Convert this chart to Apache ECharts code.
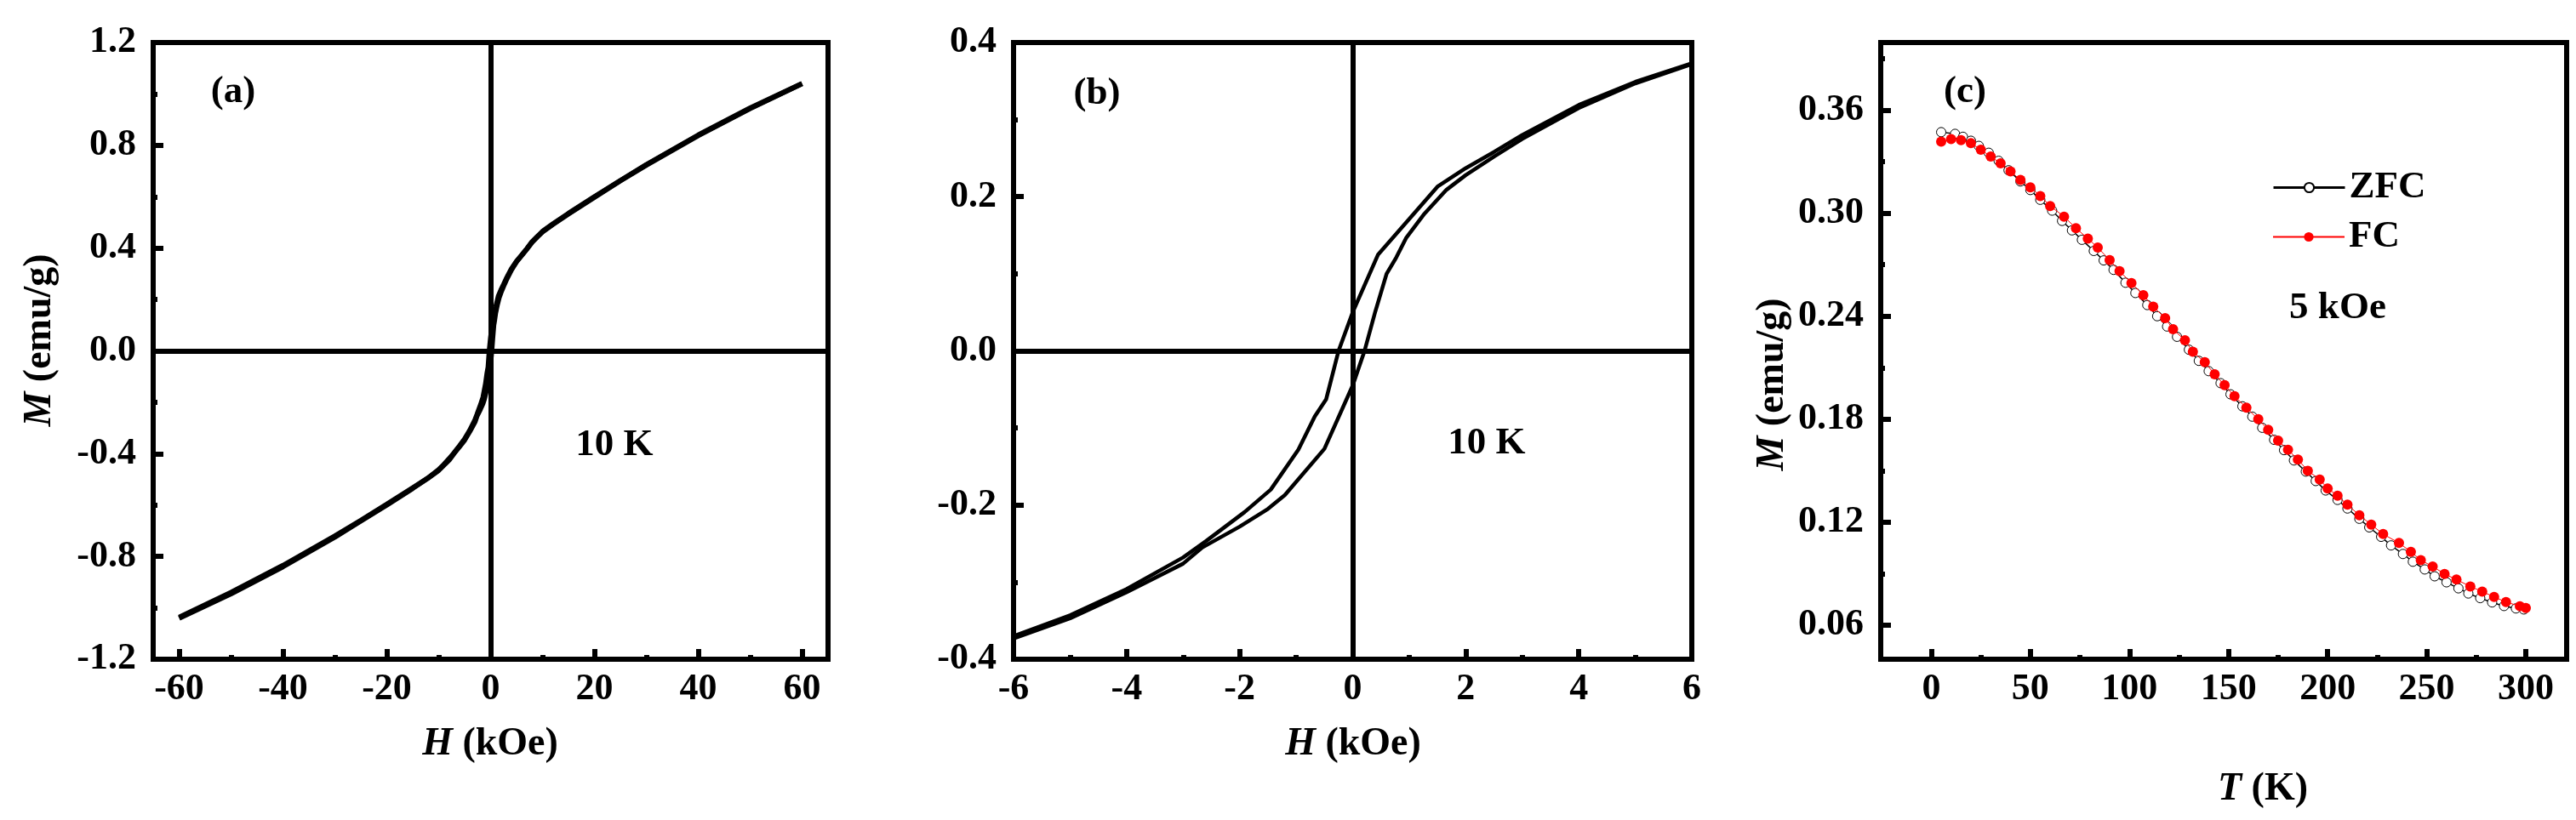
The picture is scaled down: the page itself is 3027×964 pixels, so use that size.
<!DOCTYPE html>
<html><head><meta charset="utf-8">
<script src="https://cdn.jsdelivr.net/npm/echarts@6/dist/echarts.min.js"></script>
<style>html,body{margin:0;padding:0;background:#fff}#c{width:3027px;height:964px}</style>
</head><body><div id="c"></div>
<script>
// ---- Data: M-H loop at 10 K (descending / ascending branches) ----
const hDesc = [60, 50, 40, 30, 25, 20, 15, 12, 10, 9, 8, 7, 6, 5, 4, 3, 2.5, 2, 1.5, 1, 0.45, 0, -0.25, -0.47, -0.67, -0.96, -1.45, -1.91, -2.6, -3, -4, -5, -6, -7, -8, -9, -10, -12, -15, -20, -25, -30, -40, -50, -60];
const mDesc = [1.04, 0.945, 0.84, 0.725, 0.663, 0.6, 0.535, 0.494, 0.465, 0.445, 0.425, 0.398, 0.373, 0.349, 0.319, 0.28, 0.258, 0.237, 0.213, 0.171, 0.125, 0.05, 0, -0.063, -0.085, -0.128, -0.18, -0.209, -0.247, -0.268, -0.309, -0.343, -0.37, -0.396, -0.42, -0.442, -0.462, -0.494, -0.533, -0.597, -0.66, -0.72, -0.835, -0.94, -1.037];
const hAsc = [-60, -50, -40, -30, -25, -20, -15, -12, -10, -9, -8, -7, -6, -5, -4, -3, -2.66, -2, -1.5, -1.2, -0.5, 0, 0.21, 0.4, 0.6, 0.77, 0.95, 1.27, 1.66, 2, 2.5, 3, 4, 5, 6, 7, 8, 9, 10, 12, 15, 20, 25, 30, 40, 50, 60];
const mAsc = [-1.04, -0.945, -0.84, -0.725, -0.662, -0.6, -0.535, -0.494, -0.465, -0.445, -0.425, -0.398, -0.373, -0.347, -0.313, -0.276, -0.255, -0.228, -0.205, -0.187, -0.127, -0.045, 0, 0.051, 0.1, 0.121, 0.147, 0.178, 0.209, 0.228, 0.252, 0.275, 0.315, 0.347, 0.372, 0.397, 0.423, 0.444, 0.463, 0.492, 0.533, 0.598, 0.662, 0.723, 0.838, 0.943, 1.04];

// ---- Data: M-T at 5 kOe ----
const tZFC = [5,12,16,20,24,29,34,39,45,50,55,61,66,71,76,82,87,92,98,103,109,114,119,124,130,135,140,146,151,157,162,167,173,178,183,189,194,199,205,210,216,221,227,232,238,243,249,254,260,266,271,277,283,289,295,299];
const mZFC = [0.3472,0.3462,0.3445,0.3422,0.3392,0.3352,0.3305,0.325,0.3185,0.3135,0.3078,0.3015,0.2955,0.29,0.2845,0.278,0.2725,0.267,0.2595,0.2535,0.2465,0.24,0.234,0.228,0.2205,0.214,0.208,0.201,0.1945,0.1875,0.1815,0.175,0.168,0.162,0.156,0.1495,0.144,0.1385,0.133,0.128,0.122,0.117,0.1115,0.1065,0.1015,0.097,0.0925,0.0885,0.085,0.0815,0.0785,0.0758,0.0733,0.0712,0.0698,0.0692];
const tFC = [5,10,15,20,25,30,35,40,45,50,55,60,67,73,79,84,90,95,101,107,112,118,122,128,132,138,143,148,153,159,165,170,175,180,185,190,196,200,205,210,216,222,228,236,242,247,253,259,265,272,278,284,290,297,300];
const mFC = [0.3417,0.3432,0.3426,0.3408,0.337,0.333,0.329,0.3243,0.3194,0.3151,0.31,0.3042,0.298,0.2913,0.2852,0.28,0.2727,0.2663,0.2593,0.2523,0.2456,0.2389,0.2324,0.226,0.2193,0.2132,0.2062,0.1998,0.1934,0.1867,0.18,0.1739,0.1675,0.1622,0.1565,0.15,0.1449,0.1397,0.1354,0.1302,0.1241,0.1186,0.1131,0.1079,0.1028,0.0979,0.0942,0.0899,0.0866,0.0826,0.0796,0.0765,0.0735,0.0711,0.0701];

// ---- Tick values ----
const aXMajor = [-60, -40, -20, 0, 20, 40, 60];
const aXMinor = [-50, -30, -10, 10, 30, 50];
const aYMajor = [-1.2, -0.8, -0.4, 0, 0.4, 0.8, 1.2];
const aYMinor = [-1.0, -0.6, -0.2, 0.2, 0.6, 1.0];
const bXMajor = [-6, -4, -2, 0, 2, 4, 6];
const bXMinor = [-5, -3, -1, 1, 3, 5];
const bYMajor = [-0.4, -0.2, 0, 0.2, 0.4];
const bYMinor = [-0.3, -0.1, 0.1, 0.3];
const cXMajor = [0, 50, 100, 150, 200, 250, 300];
const cXMinor = [25, 75, 125, 175, 225, 275];
const cYMajor = [0.06, 0.12, 0.18, 0.24, 0.30, 0.36];
const cYMinor = [0.09, 0.15, 0.21, 0.27, 0.33, 0.39];

const FONT = '"Liberation Serif", "Times New Roman", serif';
const zip = (a, b) => a.map((v, i) => [v, b[i]]);

function axisPair(dim, gridIndex, min, max, major, minor, fmt) {
  const pos = dim === 'x' ? 'bottom' : 'left';
  const main = {
    type: 'value', gridIndex, min, max, position: pos,
    splitLine: { show: false },
    axisLine: { show: true, onZero: false, lineStyle: { color: '#000', width: 6 } },
    axisTick: { show: true, inside: true, length: 12, customValues: major, lineStyle: { color: '#000', width: 6 } },
    axisLabel: { show: true, customValues: major, formatter: fmt, color: '#000', fontFamily: FONT, fontWeight: 'bold', fontSize: 44, margin: dim === 'x' ? 14 : 20 }
  };
  const sub = {
    type: 'value', gridIndex, min, max, position: pos,
    splitLine: { show: false },
    axisLine: { show: false, onZero: false },
    axisTick: { show: true, inside: true, length: 5, customValues: minor, lineStyle: { color: '#000', width: 6 } },
    axisLabel: { show: false }
  };
  return [main, sub];
}

const f1 = v => v.toFixed(1);
const f2 = v => v.toFixed(2);
const f0 = v => String(v);

const xAxes = [
  ...axisPair('x', 0, -65, 65, aXMajor, aXMinor, f0),
  ...axisPair('x', 1, -6, 6, bXMajor, bXMinor, f0),
  ...axisPair('x', 2, -25.5, 320.6, cXMajor, cXMinor, f0)
];
const yAxes = [
  ...axisPair('y', 0, -1.2, 1.2, aYMajor, aYMinor, f1),
  ...axisPair('y', 1, -0.4, 0.4, bYMajor, bYMinor, f1),
  ...axisPair('y', 2, 0.0402, 0.3994, cYMajor, cYMinor, f2)
];

const gridStyle = { show: true, borderWidth: 6, borderColor: '#000', backgroundColor: 'transparent' };
const grids = [
  Object.assign({ left: 180, top: 50, width: 793, height: 725 }, gridStyle),
  Object.assign({ left: 1191, top: 50, width: 797, height: 725 }, gridStyle),
  Object.assign({ left: 2210, top: 50, width: 806, height: 725 }, gridStyle)
];

const zeroLines = {
  silent: true, symbol: 'none', label: { show: false },
  lineStyle: { color: '#000', width: 6, type: 'solid' },
  emphasis: { disabled: true },
  data: [{ xAxis: 0 }, { yAxis: 0 }]
};

function loopSeries(xi, yi, w, withZero) {
  const base = { type: 'line', xAxisIndex: xi, yAxisIndex: yi, showSymbol: false, symbol: 'none', smooth: false,
    lineStyle: { color: '#000', width: w }, itemStyle: { color: '#000' }, z: 3 };
  const s1 = Object.assign({}, base, { name: 'desc' + xi, data: zip(hDesc, mDesc) });
  const s2 = Object.assign({}, base, { name: 'asc' + xi, data: zip(hAsc, mAsc) });
  if (withZero) s1.markLine = zeroLines;
  return [s1, s2];
}

const series = [
  ...loopSeries(0, 0, 6, true),
  ...loopSeries(2, 2, 4.5, true),
  { type: 'line', name: 'ZFC', xAxisIndex: 4, yAxisIndex: 4, data: zip(tZFC, mZFC),
    symbol: 'circle', symbolSize: 11, showSymbol: true,
    lineStyle: { color: '#000', width: 1.5 },
    itemStyle: { color: '#fff', borderColor: '#000', borderWidth: 1 }, z: 3 },
  { type: 'line', name: 'FC', xAxisIndex: 4, yAxisIndex: 4, data: zip(tFC, mFC),
    symbol: 'circle', symbolSize: 12, showSymbol: true,
    lineStyle: { color: '#ff0000', width: 1 },
    itemStyle: { color: '#ff0000', borderColor: '#ff0000', borderWidth: 0 }, z: 4 }
];

const txt = (text, x, y, size, extra) => ({
  type: 'text', x, y, z: 10,
  style: Object.assign({ text, fill: '#000', fontFamily: FONT, fontWeight: 'bold', fontSize: size, align: 'center', verticalAlign: 'middle' }, extra || {})
});
const richI = size => ({ i: { fontStyle: 'italic', fontWeight: 'bold', fontFamily: FONT, fontSize: size, fill: '#000' }, n: { fontWeight: 'bold', fontFamily: FONT, fontSize: size, fill: '#000' } });

const graphic = [
  txt('(a)', 274, 108, 45),
  txt('(b)', 1289, 110, 45),
  txt('(c)', 2309, 108, 45),
  txt('10 K', 722, 523, 45),
  txt('10 K', 1747, 521, 45),
  txt('5 kOe', 2747, 362, 45),
  txt('{i|H}{n| (kOe)}', 576, 875, 46, { rich: richI(46) }),
  txt('{i|H}{n| (kOe)}', 1590, 875, 46, { rich: richI(46) }),
  txt('{i|T}{n| (K)}', 2659, 928, 46, { rich: richI(46) }),
  Object.assign(txt('{i|M}{n| (emu/g)}', 47, 400, 46, { rich: richI(46) }), { rotation: Math.PI / 2 }),
  Object.assign(txt('{i|M}{n| (emu/g)}', 2083, 452, 46, { rich: richI(46) }), { rotation: Math.PI / 2 })
];

const legendText = { color: '#000', fontFamily: FONT, fontWeight: 'bold', fontSize: 45 };
const legends = [
  { data: [{ name: 'ZFC', lineStyle: { width: 3, color: '#000' } }], lineStyle: { width: 3, color: '#000' },
    left: 2670, top: 198, orient: 'vertical', itemWidth: 84, itemHeight: 14, itemGap: 0, textStyle: legendText, padding: 0 },
  { data: [{ name: 'FC' }], left: 2670, top: 256, orient: 'vertical', itemWidth: 84, itemHeight: 14, itemGap: 0, textStyle: legendText, padding: 0 }
];

const chart = echarts.init(document.getElementById('c'), null, { renderer: 'canvas' });
chart.setOption({
  animation: false,
  backgroundColor: '#fff',
  grid: grids,
  xAxis: xAxes,
  yAxis: yAxes,
  legend: legends,
  series,
  graphic
});
</script></body></html>
